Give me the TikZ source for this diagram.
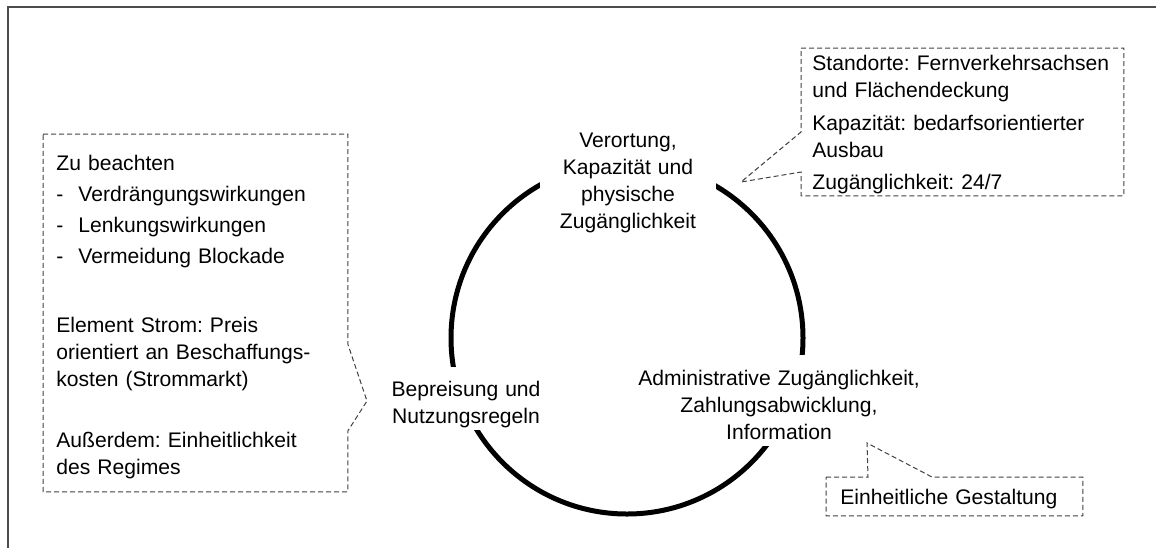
\documentclass[tikz,border=0pt]{standalone}
\usepackage{fontspec}
\setmainfont{Liberation Sans}
\frenchspacing
\begin{document}
\begin{tikzpicture}[x=0.5pt,y=0.5pt,
	every node/.style={inner sep=0pt,font=\fontsize{10.55pt}{13.5pt}\selectfont},
	stage/.style={fill=white,align=center,anchor=north},
	note/.style={align=left,anchor=north west},
	callout/.style={draw=black!75,line width=0.5pt,dash pattern=on 2.5pt off 1.5pt},
	ring/.style={line width=2.5pt}]
	\useasboundingbox (0,0) rectangle (1156,-548);
	\draw [black!70,line width=0.75pt] (8,-548) -- (8,-7) -- (1156,-7);
	\draw [ring] (627,-338) circle [radius=88pt];
	\node [stage,text width=88pt,text height=9.75pt,text depth=42.25pt] (siting) at (628,-128) {Verortung,\\Kapazität und\\physische\\Zugänglichkeit};
	\node [stage,text width=150pt,text height=15.25pt,text depth=30.25pt] (admin) at (779,-355) {Administrative Zugänglichkeit,\\Zahlungsabwicklung,\\Information};
	\node [stage,text width=75pt,text height=14.5pt,text depth=17pt] (price) at (466,-367) {Bepreisung und\\Nutzungsregeln};
	\node [note,inner xsep=5.5pt,text width=150pt,text height=11.25pt,text depth=62.25pt] (loc) at (801,-48) {Standorte: Fernverkehrsachsen\\und Flächendeckung\\[3pt]Kapazität: bedarfsorientierter\\Ausbau\\[2.5pt]Zugänglichkeit: 24/7};
	\node [note,inner xsep=6.5pt,text width=139pt,text height=18.25pt,text depth=160.25pt] (hints) at (43,-134) {Zu beachten\\[2pt]\makebox[11pt][l]{-}Verdrängungswirkungen\\[2pt]\makebox[11pt][l]{-}Lenkungswirkungen\\[2pt]\makebox[11pt][l]{-}Vermeidung Blockade\\[21pt]Element Strom: Preis\\orientiert an Beschaffungs-\\kosten (Strommarkt)\\[17pt]Außerdem: Einheitlichkeit\\des Regimes};
	\node [note,inner xsep=7pt,text width=114pt,text height=13.75pt,text depth=5.25pt] (uni) at (826,-477) {Einheitliche Gestaltung};
	\coordinate (loctip) at (741,-182);
	\coordinate (pricetip) at (367,-401);
	\coordinate (admintip) at (867,-443);
	\draw [callout] (loc.north west) -- (loc.north east) -- (loc.south east) -- (loc.south west) -- (loc.west |- 0,-172) -- (loctip) -- (loc.west |- 0,-132) -- cycle;
	\draw [callout] (hints.north west) -- (hints.north east) -- (hints.east |- 0,-344) -- (pricetip) -- (hints.east |- 0,-431) -- (hints.south east) -- (hints.south west) -- cycle;
	\draw [callout] (uni.north west) -- (uni.north -| 868,0) -- (admintip) -- (uni.north -| 932,0) -- (uni.north east) -- (uni.south east) -- (uni.south west) -- cycle;
\end{tikzpicture}
\end{document}
